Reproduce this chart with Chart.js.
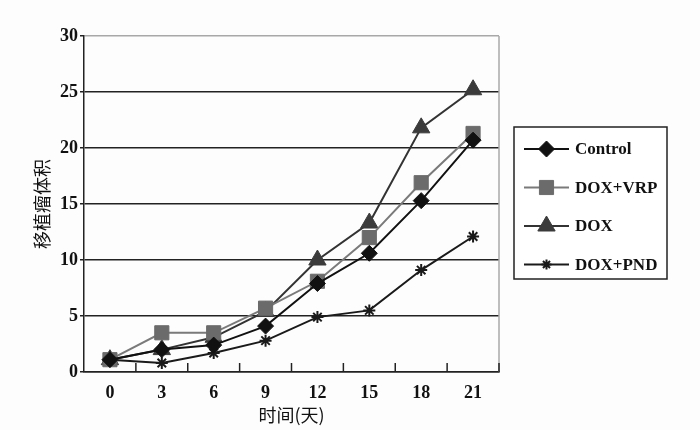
<!DOCTYPE html>
<html>
<head>
<meta charset="utf-8">
<script src="https://cdn.jsdelivr.net/npm/chart.js@4"></script>
<style>
  html, body { margin: 0; padding: 0; background: #fdfdfd; }
  #wrap { width: 700px; height: 430px; position: relative; }
</style>
</head>
<body>
<div id="wrap"><canvas id="mycanvas" width="700" height="430"></canvas></div>
<script>
// days after transplant
var days = ["0", "3", "6", "9", "12", "15", "18", "21"];

// tumour volume per group
var control = [1.1, 2.0, 2.4, 4.1, 7.9, 10.6, 15.3, 20.7];
var doxVrp = [1.1, 3.5, 3.5, 5.7, 8.1, 12.0, 16.9, 21.3];
var dox = [1.1, 2.0, 3.1, 5.4, 10.0, 13.3, 21.8, 25.2];
var doxPnd = [1.1, 0.8, 1.7, 2.8, 4.9, 5.5, 9.1, 12.1];

var seriesNames = ["Control", "DOX+VRP", "DOX", "DOX+PND"];
var yTicks = [0, 5, 10, 15, 20, 25, 30];

var serif = "'Liberation Serif', 'DejaVu Serif', serif";

function makeSet(name, data, lineColor, ptStyle, ptColor, ptRadius) {
    return {
        label: name,
        data: data,
        borderColor: lineColor,
        backgroundColor: ptColor,
        borderWidth: 2,
        pointStyle: ptStyle,
        pointRadius: ptRadius,
        pointBorderColor: ptColor,
        pointBorderWidth: ptStyle == "star" ? 2 : 1,
        pointBackgroundColor: ptColor,
        tension: 0,
        fill: false
    };
}

// tick marks inside the plot, gray right border, legend box
var extras = {
    id: "extras",
    beforeDatasetsDraw: function(chart) {
        var ctx = chart.ctx;
        var xs = chart.scales.x;
        var area = chart.chartArea;
        ctx.save();
        ctx.strokeStyle = "#a8a8a8";
        ctx.lineWidth = 1.5;
        ctx.beginPath();
        ctx.moveTo(area.right, area.top);
        ctx.lineTo(area.right, area.bottom);
        ctx.stroke();
        ctx.strokeStyle = "#222";
        for (var i = 1; i <= days.length; i++) {
            var px = i < days.length
                ? (xs.getPixelForValue(i - 1) + xs.getPixelForValue(i)) / 2
                : area.right;
            ctx.beginPath();
            ctx.moveTo(px, area.bottom);
            ctx.lineTo(px, area.bottom - 9);
            ctx.stroke();
        }
        ctx.restore();
    },
    afterDraw: function(chart) {
        var ctx = chart.ctx;
        ctx.save();
        var lx = 514, ly = 127, lw = 153, lh = 152;
        ctx.fillStyle = "#ffffff";
        ctx.fillRect(lx, ly, lw, lh);
        ctx.strokeStyle = "#222";
        ctx.lineWidth = 1.5;
        ctx.strokeRect(lx, ly, lw, lh);
        var sets = chart.data.datasets;
        for (var k = 0; k < sets.length; k++) {
            var ds = sets[k];
            var cy = 149 + k * 38.5;
            ctx.strokeStyle = ds.borderColor;
            ctx.lineWidth = 2;
            ctx.beginPath();
            ctx.moveTo(524, cy);
            ctx.lineTo(569, cy);
            ctx.stroke();
            ctx.fillStyle = ds.pointBackgroundColor;
            ctx.strokeStyle = ds.pointBorderColor;
            ctx.lineWidth = ds.pointBorderWidth;
            Chart.helpers.drawPoint(ctx, {
                pointStyle: ds.pointStyle,
                rotation: 0,
                radius: ds.pointStyle == "star" ? 5 : ds.pointRadius,
                borderWidth: ds.pointBorderWidth
            }, 546.5, cy);
            ctx.fillStyle = "#111";
            ctx.font = "bold 17px " + serif;
            ctx.textAlign = "left";
            ctx.textBaseline = "middle";
            ctx.fillText(ds.label, 575, cy + 1);
        }
        ctx.restore();
    }
};

var ctx = document.getElementById("mycanvas");

var LineGraph = new Chart(ctx, {
    type: "line",
    data: {
        labels: days,
        datasets: [
            makeSet(seriesNames[0], control, "#111111", "rectRot", "#111111", 8),
            makeSet(seriesNames[1], doxVrp, "#7a7a7a", "rect", "#6b6b6b", 10),
            makeSet(seriesNames[2], dox, "#333333", "triangle", "#3b3b3b", 10),
            makeSet(seriesNames[3], doxPnd, "#1a1a1a", "star", "#1a1a1a", 6)
        ]
    },
    options: {
        responsive: false,
        animation: false,
        layout: { padding: { left: 0, right: 201, top: 36, bottom: 0 } },
        plugins: {
            legend: { display: false },
            tooltip: { enabled: false }
        },
        scales: {
            x: {
                offset: true,
                grid: { display: false, offset: true },
                border: { display: true, color: "#222", width: 1.5 },
                ticks: {
                    color: "#111",
                    font: { family: serif, size: 18, weight: "bold" },
                    padding: 3,
                    maxRotation: 0
                },
                title: {
                    display: true,
                    text: "时间(天)",
                    color: "#111",
                    font: { family: "'Noto Sans CJK SC'", size: 18 },
                    padding: { top: 4, bottom: 4 }
                },
                afterFit: function(scale) { scale.height = 58; }
            },
            y: {
                min: 0,
                max: 30,
                afterBuildTicks: function(scale) {
                    scale.ticks = yTicks.map(function(v) { return { value: v }; });
                },
                grid: {
                    color: function(c) { return c.tick && c.tick.value == 30 ? "#a8a8a8" : "#222"; },
                    lineWidth: 1.5,
                    tickLength: 4,
                    tickColor: "#222"
                },
                border: { display: true, color: "#222", width: 1.5 },
                ticks: {
                    color: "#111",
                    font: { family: serif, size: 18, weight: "bold" },
                    padding: 2
                },
                title: {
                    display: true,
                    text: "移植瘤体积",
                    color: "#111",
                    font: { family: "'Noto Sans CJK SC'", size: 18 },
                    padding: { top: 31, bottom: 0 }
                },
                afterFit: function(scale) { scale.width = 84; }
            }
        }
    },
    plugins: [extras]
});
</script>
</body>
</html>
